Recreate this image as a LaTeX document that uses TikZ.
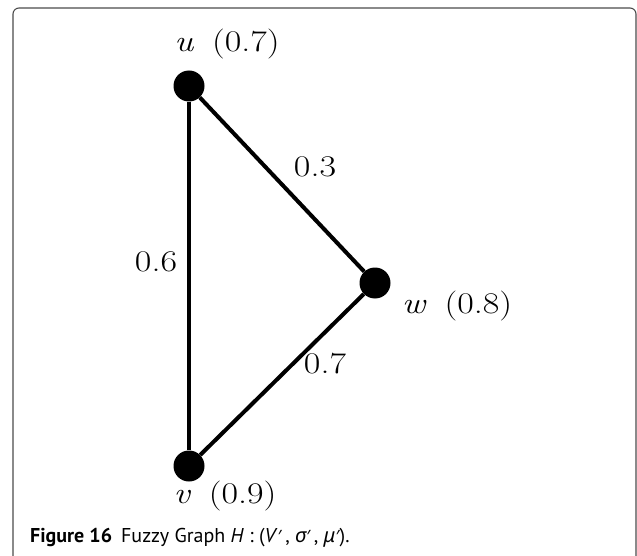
\documentclass[tikz,border=0pt]{standalone}
\usepackage{fontspec}
\newfontfamily\capfont{PT Sans}
\newfontfamily\greekfont{Noto Sans}
\newcommand{\lblgap}{\hspace{0.5em}}
\newcommand{\capprime}{{\greekfont\fontsize{17}{20}\selectfont\kern0.02em ′}}
\tikzset{
  vert/.style={circle, fill=black, minimum size=31pt, inner sep=0pt},
  edgeline/.style={line width=4pt},
  lbl/.style={inner sep=0pt, anchor=base, font=\fontsize{30}{36}\selectfont},
  framebox/.style={draw=black!70, line width=1.1pt, rounded corners=6pt},
  captext/.style={anchor=base west, inner sep=0pt, font=\capfont\fontsize{20}{24}\selectfont}
}
\begin{document}
\begin{tikzpicture}[x=1pt,y=-1pt]
  \useasboundingbox (0,0) rectangle (637,556);
  \fill[white] (0,0) rectangle (637,556);
  \draw[framebox] (13,560) -- (13,8) -- (636,8) -- (636,560);
  % vertices
  \node[vert] (u) at (189,86) {};
  \node[vert] (v) at (189,466) {};
  \node[vert] (w) at (375,283) {};
  % edges
  \draw[edgeline] (u) -- (v);
  \draw[edgeline] (u) -- (w);
  \draw[edgeline] (w) -- (v);
  % labels
  \node[lbl] (lu) at (227,52) {\scalebox{1.2}[1]{\textit{u}\lblgap(0.7)}};
  \node[lbl] (l3) at (315,177) {\scalebox{1.2}[1]{0.3}};
  \node[lbl] (l6) at (156,271) {\scalebox{1.2}[1]{0.6}};
  \node[lbl] (lw) at (457,313) {\scalebox{1.2}[1]{\textit{w}\lblgap(0.8)}};
  \node[lbl] (l7) at (325,373) {\scalebox{1.2}[1]{0.7}};
  \node[lbl] (lv) at (225,503) {\scalebox{1.2}[1]{\textit{v}\lblgap(0.9)}};
  % caption
  \node[captext] (cap) at (30,542) {\textbf{Figure 16}\hspace{0.45em}Fuzzy Graph \textit{H} : (\textit{V}\capprime\,, {\greekfont\itshape σ}\capprime\,, {\greekfont\itshape μ}\capprime).};
\end{tikzpicture}
\end{document}
